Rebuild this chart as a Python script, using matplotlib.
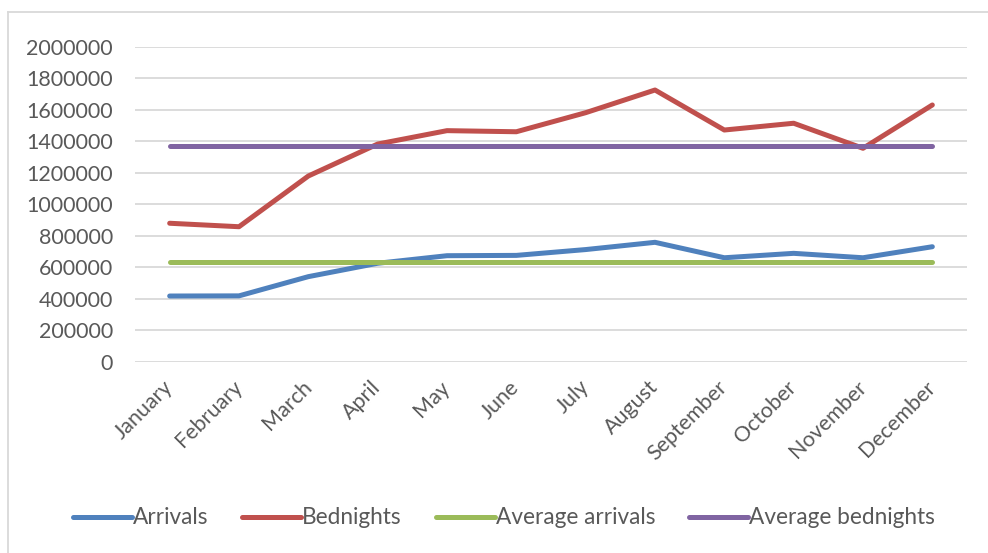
import numpy as np
import matplotlib.pyplot as plt
from matplotlib.lines import Line2D

months = ["January", "February", "March", "April", "May", "June",
          "July", "August", "September", "October", "November", "December"]
arrivals = [417000, 418000, 540000, 625000, 673000, 675000,
            712000, 758000, 660000, 688000, 660000, 730000]
bednights = [879000, 857000, 1179000, 1382000, 1467000, 1460000,
             1581000, 1725000, 1471000, 1514000, 1355000, 1630000]
avg_arrivals = [631000] * 12
avg_bednights = [1371000] * 12
y_ticks = list(range(0, 2000001, 200000))

text_col = "#595959"
fs = 15.5
plt.rcParams["font.family"] = ["Lato", "DejaVu Sans"]

fig = plt.figure(figsize=(9.88, 5.53), dpi=100)
ax = fig.add_axes([135 / 988, 1 - 361.7 / 553, (967 - 135) / 988, (361.7 - 46.7) / 553])

x = np.arange(len(months))
lw = 3.6
ax.plot(x, arrivals, color="#4F81BD", lw=lw, solid_capstyle="round", label="Arrivals")
ax.plot(x, bednights, color="#C0504D", lw=lw, solid_capstyle="round", label="Bednights")
ax.plot(x, avg_arrivals, color="#9BBB59", lw=lw, solid_capstyle="round", label="Average arrivals")
ax.plot(x, avg_bednights, color="#8064A2", lw=lw, solid_capstyle="round", label="Average bednights")

ax.set_xlim(-0.5, len(months) - 0.5)
ax.set_ylim(0, 2000000)
ax.set_yticks(y_ticks)
ax.set_yticklabels([str(v) for v in y_ticks], fontsize=fs, color=text_col)
ax.set_xticks(x)
ax.set_xticklabels(months, rotation=45, ha="right", va="center", rotation_mode="anchor",
                   fontsize=fs, color=text_col)
ax.tick_params(axis="y", length=0, pad=16)
ax.tick_params(axis="x", length=0, pad=16)
ax.grid(axis="y", color="#D9D9D9", lw=1.3)
ax.set_axisbelow(True)
for s in ax.spines.values():
    s.set_visible(False)

leg = fig.legend(loc="center", bbox_to_anchor=(0.51, 1 - 518 / 553), ncol=4, frameon=False,
                 fontsize=16.3, handlelength=2.6, handletextpad=0.05, columnspacing=1.5)
for t in leg.get_texts():
    t.set_color(text_col)

# chart area border
fig.add_artist(Line2D([8 / 988, 1], [1 - 12 / 553] * 2, color="#D9D9D9", lw=1.3))
fig.add_artist(Line2D([8 / 988] * 2, [0, 1 - 12 / 553], color="#D9D9D9", lw=1.3))

fig.savefig("out.png", dpi=100)
